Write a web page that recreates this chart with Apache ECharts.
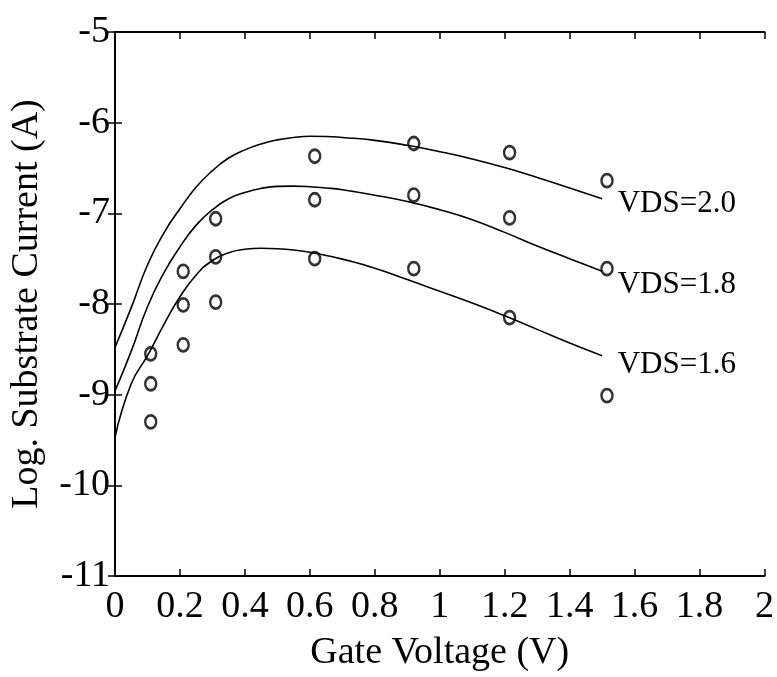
<!DOCTYPE html>
<html>
<head>
<meta charset="utf-8">
<script src="https://cdn.jsdelivr.net/npm/echarts@6/dist/echarts.min.js"></script>
<style>
html,body{margin:0;padding:0;background:#fff;}
#chart{width:777px;height:677px;}
</style>
</head>
<body>
<div id="chart"></div>
<script>
// Measured points (gate voltage, log substrate current)
var ptsX = [0.11, 0.21, 0.31, 0.615, 0.92, 1.215, 1.515];
var pts20 = [-8.55, -7.64, -7.06, -6.37, -6.23, -6.33, -6.64];
var pts18 = [-8.88, -8.01, -7.48, -6.85, -6.80, -7.05, -7.61];
var pts16 = [-9.30, -8.45, -7.98, -7.50, -7.61, -8.15, -9.01];

// Model curves (shared x positions)
var curveX = [0, 0.05, 0.1, 0.15, 0.2, 0.25, 0.3, 0.35, 0.4, 0.45, 0.5, 0.55, 0.6, 0.65, 0.7, 0.8, 0.9, 1.0, 1.1, 1.2, 1.3, 1.4, 1.5];
var curve20 = [-8.48, -8.04, -7.57, -7.22, -6.95, -6.71, -6.53, -6.39, -6.30, -6.235, -6.19, -6.163, -6.15, -6.152, -6.163, -6.195, -6.25, -6.32, -6.40, -6.495, -6.605, -6.72, -6.84];
var curve18 = [-8.96, -8.52, -8.03, -7.66, -7.37, -7.13, -6.96, -6.84, -6.77, -6.725, -6.703, -6.70, -6.706, -6.72, -6.74, -6.80, -6.87, -6.96, -7.07, -7.21, -7.36, -7.50, -7.64];
var curve16 = [-9.47, -8.88, -8.57, -8.23, -7.92, -7.68, -7.52, -7.435, -7.397, -7.385, -7.39, -7.405, -7.43, -7.465, -7.505, -7.605, -7.73, -7.86, -7.99, -8.13, -8.28, -8.43, -8.57];

// Curve labels
var labelNames = ['VDS=2.0', 'VDS=1.8', 'VDS=1.6'];
var labelX = [1.548, 1.548, 1.548];
var labelY = [-6.894, -7.792, -8.668];

var xTitle = 'Gate Voltage (V)';
var yTitle = 'Log. Substrate Current (A)';

var FONT = 'Liberation Serif';

function zip(xs, ys) { return xs.map(function (x, i) { return [x, ys[i]]; }); }

var curves = [curve20, curve18, curve16];
var points = [pts20, pts18, pts16];

var series = [];
curves.forEach(function (c, i) {
  series.push({
    type: 'line',
    data: zip(curveX, c),
    smooth: 0.5,
    showSymbol: false,
    silent: true,
    lineStyle: { color: '#000', width: 1.6 },
    markPoint: {
      silent: true,
      symbol: 'circle',
      symbolSize: 0,
      data: [{
        coord: [labelX[i], labelY[i]],
        label: {
          show: true, position: 'right', distance: 0,
          formatter: labelNames[i],
          fontFamily: FONT, fontSize: 31, color: '#000'
        }
      }]
    }
  });
});
points.forEach(function (p) {
  series.push({
    type: 'scatter',
    data: zip(ptsX, p),
    symbol: 'circle',
    symbolSize: [11, 13],
    silent: true,
    itemStyle: { color: 'rgba(0,0,0,0)', borderColor: '#000', borderWidth: 2.6 }
  });
});

var axisLineStyle = { lineStyle: { color: '#000', width: 1.8 } };
var tickStyle = { show: true, inside: true, length: 7, lineStyle: { color: '#000', width: 1.5 } };

var option = {
  animation: false,
  backgroundColor: '#fff',
  grid: { left: 114, right: 8, top: 32, bottom: 97, containLabel: false },
  xAxis: [{
    type: 'value', min: 0, max: 2, interval: 0.2,
    name: xTitle, nameLocation: 'middle', nameGap: 58,
    nameTextStyle: { fontFamily: FONT, fontSize: 38, color: '#000' },
    axisLine: axisLineStyle, axisTick: tickStyle,
    splitLine: { show: false },
    axisLabel: { fontFamily: FONT, fontSize: 38, color: '#000', margin: 12 }
  }, {
    type: 'value', min: 0, max: 2, interval: 0.2, position: 'top',
    axisLine: axisLineStyle, axisTick: tickStyle,
    splitLine: { show: false }, axisLabel: { show: false }
  }],
  yAxis: [{
    type: 'value', min: -11, max: -5, interval: 1,
    name: yTitle, nameLocation: 'middle', nameGap: 69,
    nameTextStyle: { fontFamily: FONT, fontSize: 38, color: '#000' },
    axisLine: axisLineStyle, axisTick: tickStyle,
    splitLine: { show: false },
    axisLabel: { fontFamily: FONT, fontSize: 38, color: '#000', margin: 5 }
  }, {
    type: 'value', min: -11, max: -5, interval: 1, position: 'right',
    axisLine: axisLineStyle, axisTick: tickStyle,
    splitLine: { show: false }, axisLabel: { show: false }
  }],
  series: series
};

var chart = echarts.init(document.getElementById('chart'), null, { renderer: 'canvas' });
chart.setOption(option);
</script>
</body>
</html>
